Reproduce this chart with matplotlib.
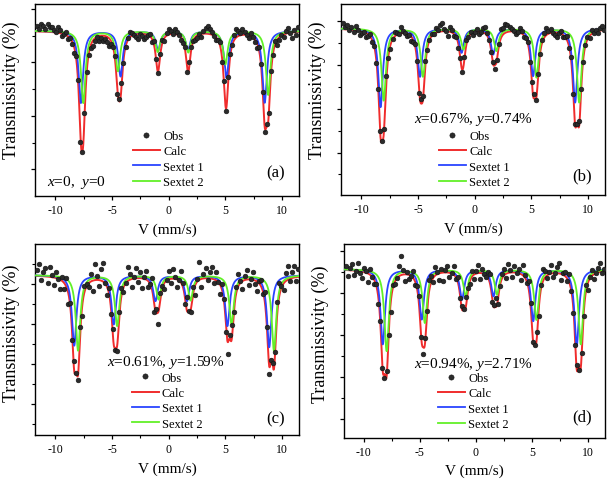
import numpy as np
import matplotlib
matplotlib.use("Agg")
import matplotlib.pyplot as plt
from matplotlib.ticker import MultipleLocator, FixedLocator, NullFormatter

plt.rcParams['font.family'] = ['Liberation Serif', 'DejaVu Serif']
plt.rcParams['mathtext.fontset'] = 'custom'
plt.rcParams['mathtext.rm'] = 'Liberation Serif'
plt.rcParams['mathtext.it'] = 'Liberation Serif:italic'
plt.rcParams['axes.unicode_minus'] = False

# ---------------- data (velocities in mm/s, depths in % below 100 % baseline) ----------------
panel_labels = ["(a)", "(b)", "(c)", "(d)"]
compositions = [r"$x$=0,  $y$=0", r"$x$=0.67%, $y$=0.74%",
                r"$x$=0.61%, $y$=1.59%", r"$x$=0.94%, $y$=2.71%"]
series_names = ["Obs", "Calc", "Sextet 1", "Sextet 2"]
baseline = 100.0

# Sextet 1 (blue) line positions / depths
s1_pos_a = [-7.75, -4.25, -0.93, 1.70, 5.10, 8.47]
s1_dep_a = [2.7, 1.7, 0.72, 0.72, 1.75, 2.69]
s1_pos_b = [-8.31, -4.83, -1.16, 1.63, 5.15, 8.86]
s1_dep_b = [3.6, 2.2, 1.1, 1.18, 2.17, 3.39]
s1_pos_c = [-8.34, -4.85, -1.17, 1.61, 5.18, 8.87]
s1_dep_c = [3.52, 2.45, 1.28, 1.28, 2.53, 3.6]
s1_pos_d = [-8.31, -4.84, -1.25, 1.56, 5.10, 8.98]
s1_dep_d = [3.57, 2.38, 1.43, 1.27, 2.46, 3.65]

# Sextet 2 (green) line positions / depths
s2_pos_a = [-7.54, -4.48, -0.97, 1.73, 5.00, 8.78]
s2_dep_a = [2.7, 1.5, 0.78, 0.8, 1.25, 2.4]
s2_pos_b = [-8.03, -4.57, -1.00, 1.91, 5.45, 9.22]
s2_dep_b = [3.3, 2.2, 0.95, 1.02, 2.24, 3.39]
s2_pos_c = [-8.00, -4.55, -0.89, 1.93, 5.55, 9.29]
s2_dep_c = [3.77, 2.53, 1.2, 1.25, 2.45, 3.78]
s2_pos_d = [-7.97, -4.56, -0.92, 1.87, 5.39, 9.34]
s2_dep_d = [3.89, 2.54, 1.27, 1.19, 2.4, 3.57]

line_fwhm = [0.48, 0.48, 0.48, 0.48]

# Observed points: deviation from the fitted curve, in 0.1 % steps (128 channels)
dev_a = [2, 1, 3, 2, 1, 3, 2, 2, 1, 0, 2, 1, -1, 0, 1, -1,
         0, -1, -2, 1, 2, -3, 0, 2, 1, 0, -1, -2, -1, 0, -2, -1,
         -2, -1, -2, -3, -1, 0, 2, -2, 1, 2, -1, 0, 1, 2, 1, 0,
         -1, -2, 0, -1, -2, -1, 0, 1, -1, 2, 1, -1, 0, 1, -1, 1,
         2, 1, 0, 2, 1, 0, -1, -1, 1, -2, 2, 1, 0, -1, -1, 0,
         -1, 1, 2, 3, 2, 1, 0, -1, 0, 1, -2, 1, -1, 2, 1, 0,
         2, 3, 2, 1, 2, 1, 0, -1, 1, 0, -1, -2, 1, 0, 2, -1,
         1, -2, 0, -1, 1, -2, -1, 0, -1, 1, 2, 0, -2, 1, -1, 2]
dev_b = [3, 1, 2, 0, 1, -1, 2, 0, -2, -1, 0, -2, -1, 1, -1, 0,
         -2, -1, 1, 0, -2, 2, -1, -2, 0, 2, 1, 0, 3, 1, 0, -1,
         0, -2, -1, 1, 0, -1, 2, 0, 2, -1, 0, 1, 0, 2, 1, 3,
         4, 1, 0, -2, 2, 1, -1, 0, -2, 0, -1, 1, 2, 0, 1, -1,
         0, 1, -1, 0, 2, 3, 1, 0, -1, 1, -2, -1, 0, 4, 3, 4,
         3, 2, 1, 0, -1, 0, 2, 1, -1, 0, 1, -2, 1, 2, -1, 0,
         -1, 1, 2, 3, 1, 2, 0, -1, -2, 0, 1, -1, 0, 2, -1, 1,
         -2, 1, 0, 2, -1, -2, 0, 1, -1, 2, 0, 1, -1, 1, 2, 0]
dev_c = [3, 6, -2, 2, 4, -3, 5, 1, -4, 3, 0, -5, 2, -3, 4, -6,
         1, -3, 5, 0, -4, 2, -6, 3, 1, -2, 4, -5, 8, 2, -3, 6,
         9, 0, -4, 3, -2, 5, -1, -3, 2, 4, -2, 0, 7, 3, -4, 1,
         5, -2, 3, -5, 1, 4, -3, 0, 6, -4, 2, -6, 3, 1, -3, 0,
         4, -2, 5, 1, -4, 0, 6, 2, -3, 7, 0, -2, 3, -5, 1, 9,
         -4, 2, 5, -1, 3, 6, -2, 4, 0, -5, 3, 1, -3, -6, 2, 5,
         -2, 3, 6, 1, -4, 2, 5, -3, 0, 4, -2, -5, 1, 3, -1, 6,
         2, -4, 0, 3, -2, 5, 6, 1, -3, 4, 7, -1, 3, 6, -2, 4]
dev_d = [2, -3, 1, 3, -2, 0, 4, -1, -3, 2, 1, -4, 3, 0, -2, 1,
         -3, 2, 0, -2, 3, 1, -4, 2, -1, 0, 5, 9, 2, -3, 1, -2,
         0, 3, -2, 1, 4, -1, -3, 2, 0, 5, 3, -2, 4, 1, -3, 2,
         -4, 1, 3, -2, 0, 4, -1, 2, -3, 1, 0, 5, 2, -1, 3, -2,
         1, 4, -3, 2, 0, -1, 3, 5, -2, 1, 4, -3, -1, 2, 3, -2,
         4, 1, -2, 3, 0, 2, -3, 5, 1, -1, 4, 2, -2, 0, 3, -4,
         2, 6, 3, -1, 1, 4, -2, 0, 3, 5, -3, 1, 2, -1, 4, 0,
         -2, 1, 3, -1, 2, 0, 4, -3, 1, 3, -2, 0, 2, 4, -1, 1]

obs_v_range = (-11.6, 11.4)
n_channels = 128

x_ticks = [-10, -5, 0, 5, 10]
x_tick_labels = ["-10", "-5", "0", "5", "10"]

# ---------------- layout / style ----------------
axes_rects = [
    [0.0570, 0.5938, 0.4300, 0.3959],
    [0.5554, 0.5959, 0.4300, 0.3938],
    [0.0570, 0.1010, 0.4300, 0.3938],
    [0.5597, 0.0955, 0.4256, 0.3993],
]
ylims = [(93.81, 101.0), (92.37, 101.11), (92.0, 101.55), (91.98, 101.19)]
ymajor = [[100.81, 98.81, 96.81, 94.81],
          [100.31, 98.31, 96.31, 94.31],
          [99.55, 97.55, 95.55, 93.55],
          [100.87, 98.87, 96.87, 94.87, 92.87]]
yminor = [[99.81, 97.81, 95.81],
          [99.31, 97.31, 95.31, 93.31],
          [100.55, 98.55, 96.55, 94.55, 92.55],
          [99.87, 97.87, 95.87, 93.87]]
comp_xy = [(0.045, 0.073), (0.277, 0.398), (0.273, 0.387), (0.269, 0.385)]
lab_xy = [(0.947, 0.125), (0.951, 0.10), (0.947, 0.089), (0.95, 0.112)]
leg_xy = [(0.371, 0.193), (0.371, 0.188), (0.366, 0.18), (0.361, 0.189)]
ylabel_xy = [(-0.057, 0.555), (-0.057, 0.555), (-0.057, 0.54), (-0.057, 0.54)]

RED = "#f02c2c"
BLUE = "#2a44ff"
GREEN = "#62f028"

sextets = [
    (s1_pos_a, s1_dep_a, s2_pos_a, s2_dep_a, dev_a),
    (s1_pos_b, s1_dep_b, s2_pos_b, s2_dep_b, dev_b),
    (s1_pos_c, s1_dep_c, s2_pos_c, s2_dep_c, dev_c),
    (s1_pos_d, s1_dep_d, s2_pos_d, s2_dep_d, dev_d),
]


def absorption(v, pos, dep, fwhm):
    hw = fwhm / 2.0
    out = np.zeros_like(v)
    for p, d in zip(pos, dep):
        out += d / (1.0 + ((v - p) / hw) ** 2)
    return out


fig = plt.figure(figsize=(6.14, 4.85), dpi=100)
xlim = (-11.8, 11.5)
v = np.linspace(xlim[0], xlim[1], 3000)
v_obs = np.linspace(obs_v_range[0], obs_v_range[1], n_channels)

for i in range(4):
    p1, d1, p2, d2, dev = sextets[i]
    fw = line_fwhm[i]
    ax = fig.add_axes(axes_rects[i])
    a1 = absorption(v, p1, d1, fw)
    a2 = absorption(v, p2, d2, fw)
    calc = baseline - a1 - a2
    obs = baseline - absorption(v_obs, p1, d1, fw) - absorption(v_obs, p2, d2, fw) \
        + 0.1 * np.array(dev, dtype=float)

    h_obs, = ax.plot(v_obs, obs, 'o', ms=3.4, color='#2b2b2b', mec='#111111',
                     mew=0.4, zorder=5, label=series_names[0])
    h_calc, = ax.plot(v, calc, color=RED, lw=1.4, zorder=2, label=series_names[1])
    h_s1, = ax.plot(v, baseline - a1, color=BLUE, lw=1.3, zorder=3, label=series_names[2])
    h_s2, = ax.plot(v, baseline - a2, color=GREEN, lw=1.3, zorder=4, label=series_names[3])

    ax.set_xlim(*xlim)
    ax.set_ylim(*ylims[i])
    ax.set_xticks(x_ticks)
    ax.set_xticklabels(x_tick_labels, fontsize=8.5)
    ax.xaxis.set_minor_locator(MultipleLocator(2.5))
    ax.yaxis.set_major_locator(FixedLocator(ymajor[i]))
    ax.yaxis.set_minor_locator(FixedLocator(yminor[i]))
    ax.yaxis.set_major_formatter(NullFormatter())
    ax.tick_params(which='major', direction='out', length=2.8, width=0.9, pad=3)
    ax.tick_params(which='minor', direction='out', length=2.0, width=0.8)
    for s in ax.spines.values():
        s.set_linewidth(1.0)

    ax.set_xlabel("V (mm/s)", fontsize=11, labelpad=4.5)
    ax.set_ylabel("Transmissivity (%)", fontsize=13)
    ax.yaxis.set_label_coords(*ylabel_xy[i])

    ax.text(comp_xy[i][0], comp_xy[i][1], compositions[i], transform=ax.transAxes,
            fontsize=11, ha='left', va='center')
    ax.text(lab_xy[i][0], lab_xy[i][1], panel_labels[i], transform=ax.transAxes,
            fontsize=12, ha='right', va='center')

    ax.legend(handles=[h_obs, h_calc, h_s1, h_s2], loc='center left',
              bbox_to_anchor=leg_xy[i], frameon=False, fontsize=9,
              handlelength=2.16, handletextpad=0.25, labelspacing=0.27,
              borderpad=0.0, borderaxespad=0.0, numpoints=1, markerscale=1.1)

fig.savefig("out.png", dpi=100)
